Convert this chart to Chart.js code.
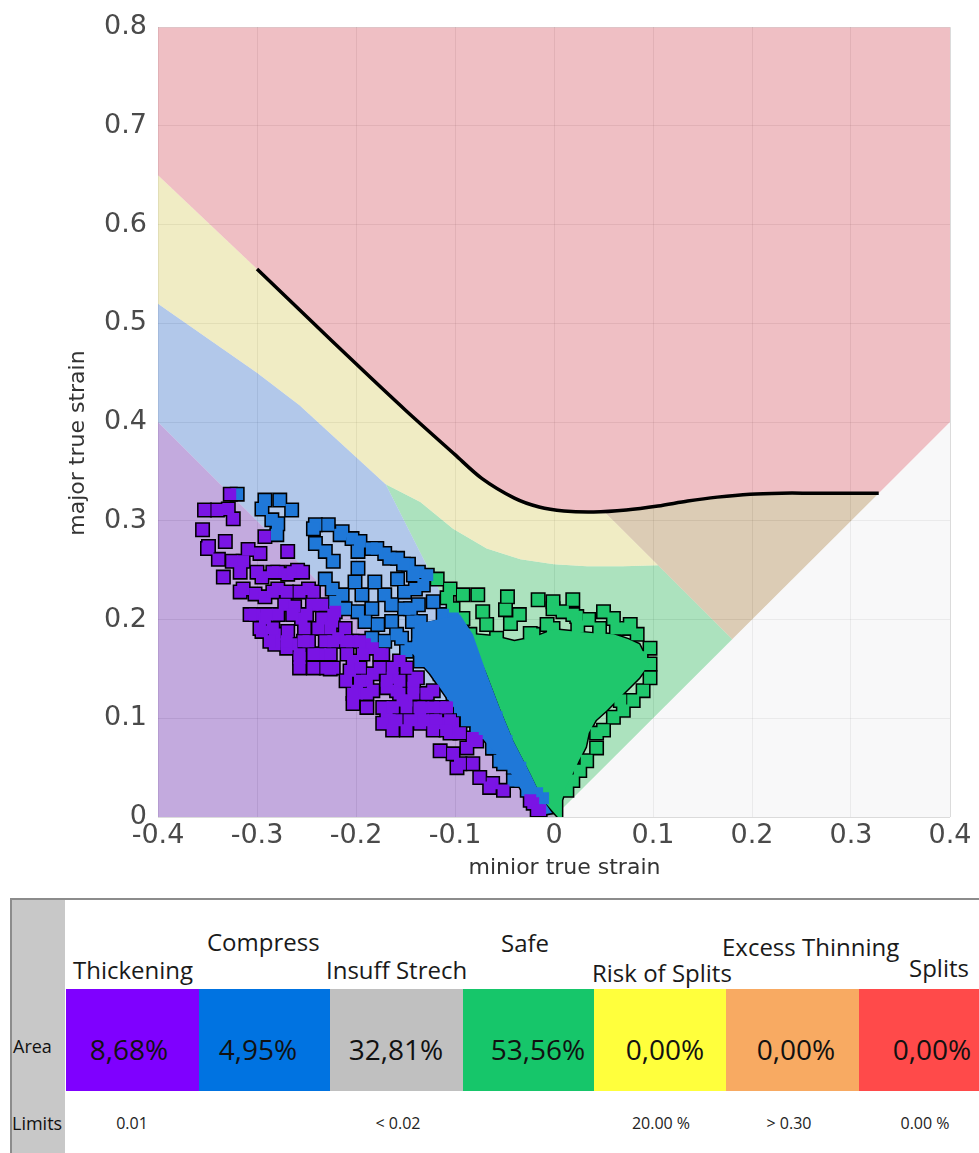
<!DOCTYPE html>
<html>
<head>
<meta charset="utf-8">
<script src="https://cdn.jsdelivr.net/npm/chart.js@4.4.1/dist/chart.umd.min.js"></script>
<style>
  body { margin: 0; background: #fff; }
  #wrap { position: relative; width: 979px; height: 1153px; overflow: hidden; }
  #flc { position: absolute; left: 0; top: 0; }
  .abs { position: absolute; white-space: nowrap; font-family: 'Open Sans', sans-serif; color: #111; }
</style>
</head>
<body>
<div id="wrap">
  <canvas id="flc" width="979" height="885"></canvas>
  <div id="tbl"></div>
</div>
<script>
// tick labels
const xTickLabels = ['-0.4', '-0.3', '-0.2', '-0.1', '0', '0.1', '0.2', '0.3', '0.4'];
const yTickLabels = ['0', '0.1', '0.2', '0.3', '0.4', '0.5', '0.6', '0.7', '0.8'];

// forming limit curve (minor, major)
const flcCurve = [[-0.3, 0.555], [-0.25, 0.507], [-0.2, 0.459], [-0.15, 0.412], [-0.1, 0.367],
  [-0.073, 0.343], [-0.04, 0.323], [-0.015, 0.314], [0.01, 0.310], [0.04, 0.309], [0.073, 0.311],
  [0.105, 0.315], [0.135, 0.320], [0.165, 0.324], [0.198, 0.327], [0.23, 0.328], [0.261, 0.328],
  [0.295, 0.328], [0.328, 0.328]];

// zone boundaries
const safeTop = [[-0.17, 0.337], [-0.135, 0.319], [-0.102, 0.292], [-0.068, 0.272], [-0.034, 0.261],
  [0, 0.256], [0.033, 0.254], [0.07, 0.254], [0.105, 0.255]];
const compressTop = [[-0.4, 0.52], [-0.3, 0.45], [-0.257, 0.417], [-0.17, 0.337]];

// measured points
const thickeningPts = [[-0.327, 0.327], [-0.353, 0.311], [-0.340, 0.311], [-0.329, 0.312], [-0.324, 0.302],
  [-0.355, 0.291], [-0.332, 0.279], [-0.349, 0.274], [-0.309, 0.271], [-0.297, 0.267], [-0.339, 0.261],
  [-0.325, 0.259], [-0.314, 0.259], [-0.334, 0.243], [-0.295, 0.243], [-0.292, 0.284], [-0.269, 0.269],
  [-0.279, 0.248], [-0.269, 0.246], [-0.259, 0.250], [-0.314, 0.231], [-0.302, 0.226], [-0.292, 0.223],
  [-0.279, 0.231], [-0.248, 0.231], [-0.272, 0.215], [-0.262, 0.213], [-0.244, 0.215], [-0.302, 0.205],
  [-0.292, 0.201], [-0.279, 0.205], [-0.255, 0.201], [-0.234, 0.201], [-0.295, 0.188], [-0.282, 0.185],
  [-0.269, 0.188], [-0.252, 0.191], [-0.238, 0.191], [-0.224, 0.198], [-0.282, 0.175], [-0.265, 0.175],
  [-0.248, 0.178], [-0.231, 0.178], [-0.218, 0.181], [-0.204, 0.178], [-0.191, 0.175], [-0.234, 0.215],
  [-0.221, 0.208], [-0.211, 0.191], [-0.350, 0.272], [-0.270, 0.171], [-0.257, 0.161], [-0.243, 0.151],
  [-0.223, 0.151], [-0.203, 0.158], [-0.199, 0.125], [-0.189, 0.138], [-0.169, 0.131], [-0.163, 0.111],
  [-0.149, 0.118], [-0.135, 0.105], [-0.122, 0.098], [-0.166, 0.098], [-0.156, 0.158], [-0.138, 0.141],
  [-0.122, 0.128], [-0.108, 0.111], [-0.183, 0.171], [-0.236, 0.165], [-0.115, 0.067], [-0.102, 0.064],
  [-0.095, 0.054], [-0.075, 0.040], [-0.062, 0.034], [-0.051, 0.027], [-0.021, 0.014], [-0.014, 0.007],
  [-0.088, 0.070], [-0.082, 0.080], [-0.105, 0.085], [-0.226, 0.165], [-0.209, 0.165], [-0.173, 0.165],
  [-0.226, 0.150], [-0.206, 0.148], [-0.183, 0.145], [-0.163, 0.141], [-0.199, 0.128], [-0.183, 0.128],
  [-0.159, 0.128], [-0.142, 0.131], [-0.128, 0.125], [-0.203, 0.115], [-0.189, 0.111], [-0.153, 0.118],
  [-0.132, 0.111], [-0.115, 0.111], [-0.169, 0.105], [-0.159, 0.098], [-0.173, 0.095], [-0.135, 0.095],
  [-0.115, 0.095], [-0.102, 0.095], [-0.095, 0.085], [-0.078, 0.077], [-0.098, 0.050], [-0.082, 0.054],
  [-0.065, 0.030], [-0.024, 0.017], [-0.017, 0.007],
  [-0.317, 0.248], [-0.300, 0.248], [-0.284, 0.248], [-0.264, 0.248], [-0.254, 0.248],
  [-0.317, 0.228], [-0.284, 0.228], [-0.270, 0.228], [-0.257, 0.228], [-0.243, 0.228],
  [-0.307, 0.205], [-0.290, 0.205], [-0.264, 0.205], [-0.250, 0.205], [-0.223, 0.205],
  [-0.297, 0.191], [-0.284, 0.191], [-0.226, 0.191],
  [-0.287, 0.178], [-0.270, 0.178], [-0.253, 0.178], [-0.223, 0.178], [-0.210, 0.178], [-0.196, 0.178],
  [-0.257, 0.165], [-0.243, 0.165], [-0.193, 0.165], [-0.176, 0.165],
  [-0.257, 0.151], [-0.230, 0.151], [-0.196, 0.151], [-0.176, 0.151], [-0.163, 0.151], [-0.149, 0.151],
  [-0.210, 0.138], [-0.196, 0.138], [-0.169, 0.138], [-0.156, 0.138], [-0.142, 0.138],
  [-0.203, 0.125], [-0.189, 0.125], [-0.156, 0.125], [-0.142, 0.125], [-0.129, 0.125],
  [-0.173, 0.111], [-0.163, 0.111], [-0.149, 0.111], [-0.136, 0.111], [-0.122, 0.111], [-0.109, 0.111],
  [-0.146, 0.098], [-0.132, 0.098], [-0.119, 0.098], [-0.105, 0.098],
  [-0.163, 0.088], [-0.149, 0.088], [-0.122, 0.088], [-0.109, 0.088]];

const compressPts = [[-0.320, 0.327], [-0.292, 0.321], [-0.277, 0.321], [-0.265, 0.311], [-0.295, 0.312],
  [-0.285, 0.301], [-0.279, 0.297], [-0.280, 0.286], [-0.241, 0.296], [-0.228, 0.296], [-0.214, 0.289],
  [-0.204, 0.282], [-0.241, 0.277], [-0.231, 0.269], [-0.223, 0.259], [-0.198, 0.269], [-0.184, 0.272],
  [-0.171, 0.267], [-0.158, 0.262], [-0.147, 0.256], [-0.137, 0.248], [-0.198, 0.252], [-0.201, 0.238],
  [-0.194, 0.225], [-0.181, 0.238], [-0.171, 0.225], [-0.158, 0.241], [-0.151, 0.228], [-0.140, 0.231],
  [-0.231, 0.241], [-0.224, 0.231], [-0.214, 0.225], [-0.221, 0.218], [-0.211, 0.211], [-0.198, 0.208],
  [-0.184, 0.211], [-0.164, 0.215], [-0.151, 0.211], [-0.137, 0.215], [-0.191, 0.198], [-0.178, 0.195],
  [-0.164, 0.198], [-0.143, 0.198], [-0.154, 0.181], [-0.137, 0.185], [-0.171, 0.178], [-0.184, 0.181],
  [-0.243, 0.292], [-0.216, 0.286], [-0.196, 0.279], [-0.179, 0.272], [-0.166, 0.262], [-0.152, 0.256],
  [-0.142, 0.245], [-0.132, 0.235], [-0.128, 0.245], [-0.122, 0.218], [-0.112, 0.205], [-0.105, 0.185],
  [-0.145, 0.211], [-0.135, 0.198], [-0.159, 0.185], [-0.145, 0.171], [-0.135, 0.158], [-0.122, 0.165],
  [-0.105, 0.165], [-0.095, 0.151], [-0.112, 0.145], [-0.088, 0.135], [-0.102, 0.125], [-0.082, 0.118],
  [-0.095, 0.111], [-0.075, 0.101], [-0.088, 0.098], [-0.068, 0.085], [-0.078, 0.085], [-0.062, 0.070],
  [-0.055, 0.057], [-0.041, 0.050], [-0.034, 0.037], [-0.027, 0.027], [-0.021, 0.020], [-0.011, 0.019],
  [-0.044, 0.064], [-0.055, 0.085], [-0.062, 0.098], [-0.068, 0.118], [-0.075, 0.135], [-0.085, 0.151],
  [-0.095, 0.171], [-0.102, 0.201], [-0.118, 0.188], [-0.149, 0.168], [-0.118, 0.165], [-0.102, 0.168],
  [-0.088, 0.161], [-0.115, 0.145], [-0.095, 0.141], [-0.078, 0.138], [-0.085, 0.121], [-0.068, 0.121],
  [-0.092, 0.108], [-0.058, 0.101], [-0.078, 0.088], [-0.062, 0.088], [-0.048, 0.077], [-0.062, 0.070],
  [-0.051, 0.054], [-0.034, 0.050], [-0.041, 0.037], [-0.017, 0.024]];

const safePts = [[-0.118, 0.241], [-0.105, 0.231], [-0.092, 0.225], [-0.077, 0.225], [-0.047, 0.223],
  [-0.049, 0.210], [-0.072, 0.208], [-0.044, 0.196], [-0.068, 0.195], [-0.016, 0.220], [-0.001, 0.218],
  [0.019, 0.220], [0.009, 0.208], [0.023, 0.203], [-0.007, 0.195], [-0.021, 0.185], [0.050, 0.208],
  [0.060, 0.201], [0.074, 0.191], [0.084, 0.185], [0.046, 0.191], [0.097, 0.171], [-0.092, 0.201],
  [-0.085, 0.185], [-0.058, 0.181], [-0.102, 0.211], [-0.024, 0.186], [-0.001, 0.191], [-0.001, 0.211],
  [0.019, 0.205], [0.024, 0.193], [0.063, 0.191], [0.077, 0.195], [0.097, 0.155], [0.097, 0.141],
  [0.090, 0.128], [0.080, 0.118], [0.067, 0.118], [0.057, 0.135], [0.077, 0.145], [0.060, 0.101],
  [0.050, 0.088], [0.043, 0.085], [0.043, 0.070], [0.033, 0.057], [0.026, 0.047], [0.019, 0.037],
  [0.013, 0.027], [-0.108, 0.222], [-0.035, 0.205], [0.035, 0.200], [0.088, 0.162], [0.070, 0.108]];

// dense cores of the point clouds
const safeCore = [[0.004, 0.0], [-0.011, 0.017], [-0.024, 0.044], [-0.041, 0.077], [-0.055, 0.111],
  [-0.068, 0.145], [-0.082, 0.178], [-0.082, 0.185], [-0.06, 0.183], [-0.04, 0.178], [-0.02, 0.182],
  [0.0, 0.19], [0.02, 0.188], [0.04, 0.186], [0.06, 0.185], [0.075, 0.18], [0.086, 0.175], [0.096, 0.155],
  [0.086, 0.141], [0.076, 0.131], [0.063, 0.118], [0.053, 0.108], [0.042, 0.098], [0.035, 0.085],
  [0.032, 0.071], [0.025, 0.057], [0.019, 0.044], [0.012, 0.030], [0.008, 0.017], [0.008, 0.0]];
const compressCore = [[-0.095, 0.205], [-0.082, 0.185], [-0.068, 0.145], [-0.055, 0.111], [-0.041, 0.077],
  [-0.024, 0.044], [-0.011, 0.017], [-0.002, 0.004], [-0.015, 0.002], [-0.027, 0.018], [-0.047, 0.050],
  [-0.075, 0.083], [-0.102, 0.112], [-0.125, 0.145], [-0.145, 0.168], [-0.140, 0.195]];

// table data
const categories = ['Thickening', 'Compress', 'Insuff Strech', 'Safe', 'Risk of Splits', 'Excess Thinning', 'Splits'];
const areaShares = ['8,68%', '4,95%', '32,81%', '53,56%', '0,00%', '0,00%', '0,00%'];
const limitTexts = ['0.01', '', '< 0.02', '', '20.00 %', '> 0.30', '0.00 %'];

const pt = (arr) => arr.map(([x, y]) => ({ x, y }));

const zoneRed = [[-0.4, 0.8], [0.4, 0.8], [0.4, 0.4], ...flcCurve.slice().reverse(), [-0.4, 0.65]];
const zoneYellow = [[-0.4, 0.65], ...flcCurve.filter(p => p[0] < 0.05), [0.05, 0.31],
  ...safeTop.slice().reverse(), ...compressTop.slice().reverse()];
const zoneBlue = [...compressTop, [0, 0], [-0.4, 0.4]];
const zonePurple = [[-0.4, 0.4], [0, 0], [-0.4, 0]];
const zoneGreen = [...safeTop, [0.18, 0.18], [0, 0]];
const zoneBrown = [[0.05, 0.31], ...flcCurve.filter(p => p[0] > 0.05), [0.18, 0.18]];
const zoneWhite = [[0, 0], [0.4, 0.4], [0.4, 0]];
const zoneGray = [[-0.025, 0], [0.006, 0], [0.006, 0.012], [-0.003, 0.03], [-0.012, 0.02]];

function zone(points, color, order) {
  return {
    data: pt(points), showLine: true, fill: 'shape', backgroundColor: color,
    borderColor: 'rgba(0,0,0,0)', borderWidth: 0, pointRadius: 0, order: order
  };
}
function cloud(points, color, radius, order) {
  return {
    data: pt(points), pointStyle: 'rect', pointRadius: radius, pointHoverRadius: radius,
    backgroundColor: color, borderWidth: 0, order: order
  };
}
function blob(points, color, edge, order) {
  return {
    data: pt(points), showLine: true, fill: 'shape', backgroundColor: color,
    borderColor: edge ? '#000' : 'rgba(0,0,0,0)', borderWidth: edge ? 3 : 0, pointRadius: 0, order: order
  };
}

const purple = '#7a14e4', blue = '#1f78d8', green = '#1fc76c';

const datasets = [
  zone(zoneRed, 'rgba(228,148,157,0.6)', 30),
  zone(zoneYellow, 'rgba(230,223,157,0.6)', 30),
  zone(zoneBlue, 'rgba(127,163,220,0.6)', 30),
  zone(zonePurple, 'rgba(155,113,200,0.6)', 30),
  zone(zoneGreen, 'rgba(117,207,147,0.6)', 30),
  zone(zoneBrown, 'rgba(197,170,132,0.6)', 30),
  zone(zoneWhite, 'rgba(243,243,245,0.6)', 30),
  zone(zoneGray, 'rgba(163,163,172,0.6)', 29),
  { data: pt(flcCurve), showLine: true, fill: false, borderColor: '#000', borderWidth: 3.5,
    pointRadius: 0, tension: 0.3, order: 20 },
  // black outlines first
  blob(safeCore, '#000', true, 10),
  blob(compressCore, '#000', true, 10),
  cloud(safePts, '#000', 10.6, 10),
  cloud(compressPts, '#000', 10.6, 10),
  cloud(thickeningPts, '#000', 10.6, 10),
  // coloured fills on top
  blob(safeCore, green, false, 6),
  cloud(safePts, green, 8.4, 6),
  blob(compressCore, blue, false, 5),
  cloud(compressPts, blue, 8.4, 5),
  cloud(thickeningPts, purple, 8.4, 4)
];

const chart = new Chart(document.getElementById('flc').getContext('2d'), {
  type: 'scatter',
  data: { datasets: datasets },
  options: {
    responsive: false,
    animation: false,
    layout: { padding: { top: 22, right: 29, left: 0, bottom: 0 } },
    plugins: { legend: { display: false }, tooltip: { enabled: false } },
    scales: {
      x: {
        type: 'linear', min: -0.4, max: 0.4,
        afterFit: (s) => { s.height = 68; },
        border: { display: false },
        grid: { color: 'rgba(0,0,0,0.14)', drawTicks: false },
        ticks: {
          stepSize: 0.1, padding: 3, maxRotation: 0, autoSkip: false,
          color: '#4a4a4a', font: { family: 'DejaVu Sans', size: 27 },
          callback: (v, i) => xTickLabels[i]
        },
        title: {
          display: true, text: '   minior true strain', color: '#333',
          font: { family: 'DejaVu Sans', size: 22 }, padding: { top: 0, bottom: 4 }
        }
      },
      y: {
        type: 'linear', min: 0, max: 0.8,
        afterFit: (s) => { s.width = 158; },
        border: { display: false },
        grid: { color: 'rgba(0,0,0,0.14)', drawTicks: false },
        ticks: {
          stepSize: 0.1, padding: 11, autoSkip: false,
          color: '#4a4a4a', font: { family: 'DejaVu Sans', size: 27 },
          callback: (v, i) => yTickLabels[i]
        },
        title: {
          // trailing spaces push the text down to where it sits in the original
          display: true, text: 'major true strain      ', color: '#333',
          font: { family: 'DejaVu Sans', size: 22 }, padding: { top: 65, bottom: 0 }
        }
      }
    }
  }
});

// summary table under the diagram
const cellEdges = [66, 199, 330, 463, 594, 726, 859, 979];
const cellColors = ['#7f00ff', '#0073e1', '#c0c0c0', '#16c66a', '#ffff3c', '#f8aa62', '#ff4a4a'];
const headerPos = [[73, 970], [207, 942], [326, 970], [501, 943], [592, 973], [722, 947], [909, 968]];
const valueCenters = [129, 258, 396, 538, 665, 796, 932];
const limitCenters = [132, 264, 398, 528, 661, 789, 925];

const tbl = document.getElementById('tbl');
function add(html, css) {
  const d = document.createElement('div');
  d.className = 'abs';
  d.textContent = html;
  Object.assign(d.style, css);
  tbl.appendChild(d);
  return d;
}
add('', { left: '10px', top: '898px', width: '969px', height: '2px', background: '#8c8c8c' });
add('', { left: '10px', top: '898px', width: '2px', height: '255px', background: '#8c8c8c' });
add('', { left: '12px', top: '900px', width: '53px', height: '253px', background: '#c8c8c8' });
add('Area', { left: '13px', top: '1033px', fontSize: '18px', lineHeight: '26px' });
add('Limits', { left: '12px', top: '1110px', fontSize: '18px', lineHeight: '26px' });

categories.forEach((name, i) => {
  add('', { left: cellEdges[i] + 'px', top: '989px', width: (cellEdges[i + 1] - cellEdges[i]) + 'px',
    height: '102px', background: cellColors[i] });
  add(name, { left: headerPos[i][0] + 'px', top: (headerPos[i][1] - 17) + 'px', fontSize: '24px',
    lineHeight: '34px', color: '#1a1a1a' });
  add(areaShares[i], { left: (valueCenters[i] - 60) + 'px', width: '120px', textAlign: 'center',
    top: (1049 - 20) + 'px', fontSize: '28px', lineHeight: '40px', color: '#111' });
  if (limitTexts[i]) {
    add(limitTexts[i], { left: (limitCenters[i] - 50) + 'px', width: '100px', textAlign: 'center',
      top: '1111px', fontSize: '16px', lineHeight: '24px', color: '#222' });
  }
});
</script>
</body>
</html>
